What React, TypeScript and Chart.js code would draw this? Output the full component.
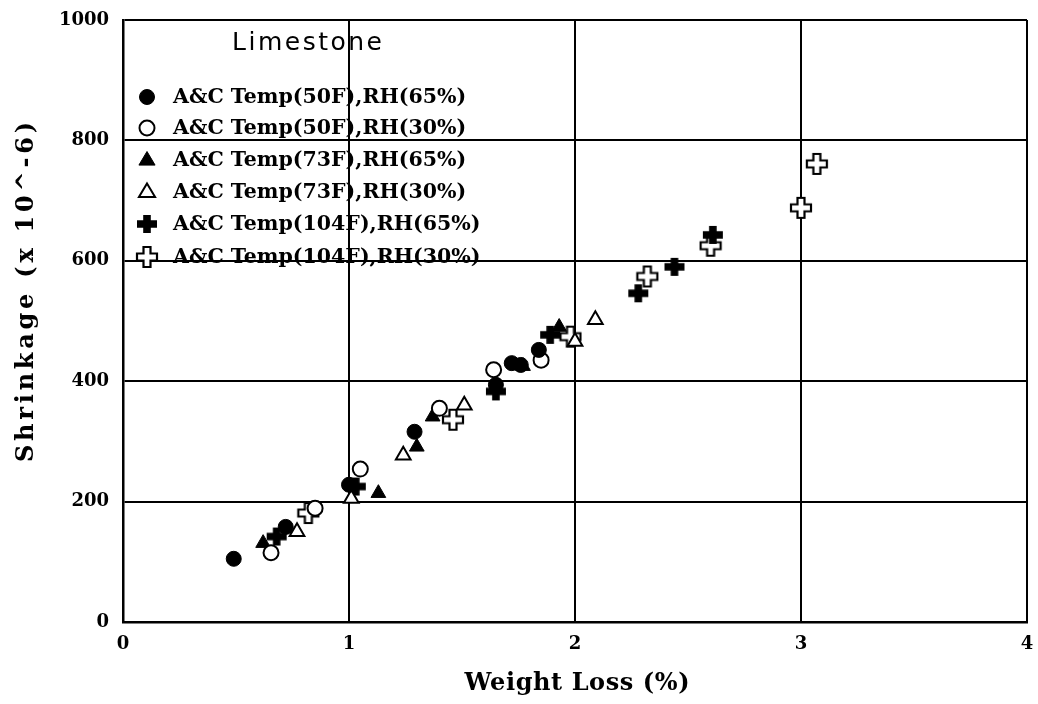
import React, { useEffect, useRef } from 'react';
import { Chart, registerables } from 'chart.js';
Chart.register(...registerables);

// ---- data ----
const seriesLabels = [
  'A&C Temp(50F),RH(65%)',
  'A&C Temp(50F),RH(30%)',
  'A&C Temp(73F),RH(65%)',
  'A&C Temp(73F),RH(30%)',
  'A&C Temp(104F),RH(65%)',
  'A&C Temp(104F),RH(30%)',
];
const chartTitle = 'Limestone';
const xTitle = 'Weight Loss (%)';
const yTitle = 'Shrinkage (x 10^-6)';

const t50rh65X = [0.49, 0.72, 1.0, 1.29, 1.65, 1.72, 1.76, 1.84];
const t50rh65Y = [105, 158, 228, 316, 394, 430, 427, 452];
const t50rh30X = [0.655, 0.85, 1.05, 1.4, 1.64, 1.85];
const t50rh30Y = [115, 189, 254, 355, 419, 435];
const t73rh65X = [0.62, 1.13, 1.3, 1.37, 1.77, 1.93];
const t73rh65Y = [131, 214, 291, 341, 425, 490];
const t73rh30X = [0.77, 1.01, 1.24, 1.51, 2.0, 2.09];
const t73rh30Y = [150, 205, 277, 360, 466, 502];
const t104rh65X = [0.68, 1.03, 1.65, 1.89, 2.28, 2.44, 2.61];
const t104rh65Y = [142, 225, 383, 477, 546, 590, 643];
const t104rh30X = [0.82, 1.46, 1.98, 2.32, 2.6, 3.0, 3.07];
const t104rh30Y = [181, 336, 474, 574, 625, 688, 761];

const xMin = 0, xMax = 4, xStep = 1;
const yMin = 0, yMax = 1000, yStep = 200;

const pts = (xs: number[], ys: number[]) => xs.map((x, i) => ({ x, y: ys[i] }));

function makePlus(filled: boolean): HTMLCanvasElement {
  const c = document.createElement('canvas');
  const s = 24;
  c.width = s; c.height = s;
  const ctx = c.getContext('2d')!;
  const cx = s / 2, cy = s / 2;
  const hw = 10; // half length horizontal
  const hh = filled ? 9 : 10;  // half length vertical
  const t = filled ? 3.8 : 3.5; // half thickness
  ctx.beginPath();
  ctx.moveTo(cx - t, cy - hh);
  ctx.lineTo(cx + t, cy - hh);
  ctx.lineTo(cx + t, cy - t);
  ctx.lineTo(cx + hw, cy - t);
  ctx.lineTo(cx + hw, cy + t);
  ctx.lineTo(cx + t, cy + t);
  ctx.lineTo(cx + t, cy + hh);
  ctx.lineTo(cx - t, cy + hh);
  ctx.lineTo(cx - t, cy + t);
  ctx.lineTo(cx - hw, cy + t);
  ctx.lineTo(cx - hw, cy - t);
  ctx.lineTo(cx - t, cy - t);
  ctx.closePath();
  if (filled) {
    ctx.fillStyle = '#000';
    ctx.fill();
  } else {
    ctx.fillStyle = '#fff';
    ctx.fill();
    ctx.lineWidth = 2.2;
    ctx.strokeStyle = '#000';
    ctx.stroke();
  }
  return c;
}

function drawTextFit(ctx: CanvasRenderingContext2D, text: string, x: number, y: number, target: number) {
  (ctx as any).letterSpacing = '0px';
  const w = ctx.measureText(text).width;
  const n = text.length;
  const ls = n > 1 ? (target - w) / (n - 1) : 0;
  (ctx as any).letterSpacing = ls + 'px';
  const w2 = ctx.measureText(text).width;
  ctx.textAlign = 'left';
  ctx.fillText(text, x - (w2 - ls) / 2, y);
  (ctx as any).letterSpacing = '0px';
}

export default function App() {
  const ref = useRef<HTMLCanvasElement | null>(null);
  useEffect(() => {
    const canvas = ref.current!;
    const plusFilled = makePlus(true);
    const plusOpen = makePlus(false);
    const styles: any[] = [
      { pointStyle: 'circle', radius: 7.5, bg: '#000', bw: 1 },
      { pointStyle: 'circle', radius: 7.5, bg: '#fff', bw: 2 },
      { pointStyle: 'triangle', radius: 8.5, bg: '#000', bw: 1 },
      { pointStyle: 'triangle', radius: 8.5, bg: '#fff', bw: 2 },
      { pointStyle: plusFilled, radius: 10, bg: '#000', bw: 1 },
      { pointStyle: plusOpen, radius: 10, bg: '#fff', bw: 1 },
    ];
    const allData = [
      pts(t50rh65X, t50rh65Y),
      pts(t50rh30X, t50rh30Y),
      pts(t73rh65X, t73rh65Y),
      pts(t73rh30X, t73rh30Y),
      pts(t104rh65X, t104rh65Y),
      pts(t104rh30X, t104rh30Y),
    ];
    const datasets = allData.map((d, i) => ({
      label: seriesLabels[i],
      data: d,
      pointStyle: styles[i].pointStyle,
      pointRadius: styles[i].radius,
      pointBackgroundColor: styles[i].bg,
      pointBorderColor: '#000',
      pointBorderWidth: styles[i].bw,
      showLine: false,
    }));

    const overlay = {
      id: 'overlay',
      afterDatasetsDraw(chart: any) {
        const ctx: CanvasRenderingContext2D = chart.ctx;
        ctx.save();
        ctx.fillStyle = '#000';
        // legend title
        ctx.font = '25px "DejaVu Sans", sans-serif';
        ctx.textBaseline = 'middle';
        drawTextFit(ctx, chartTitle, 307, 43, 150);
        // legend entries
        const rows = [97, 128, 160, 192, 224, 257];
        ctx.font = 'bold 20.5px "DejaVu Serif", serif';
        ctx.textAlign = 'left';
        rows.forEach((yy, i) => {
          const st = styles[i];
          const mx = 147;
          if (st.pointStyle === 'circle') {
            ctx.beginPath();
            ctx.arc(mx, yy, 7.5, 0, Math.PI * 2);
            ctx.fillStyle = st.bg;
            ctx.fill();
            ctx.lineWidth = st.bw;
            ctx.strokeStyle = '#000';
            ctx.stroke();
          } else if (st.pointStyle === 'triangle') {
            const r = 8.5;
            ctx.beginPath();
            ctx.moveTo(mx, yy - r);
            ctx.lineTo(mx + r * 0.95, yy + r * 0.6);
            ctx.lineTo(mx - r * 0.95, yy + r * 0.6);
            ctx.closePath();
            ctx.fillStyle = st.bg;
            ctx.fill();
            ctx.lineWidth = st.bw;
            ctx.strokeStyle = '#000';
            ctx.stroke();
          } else {
            const img = st.pointStyle as HTMLCanvasElement;
            ctx.drawImage(img, mx - img.width / 2, yy - img.height / 2);
          }
          ctx.fillStyle = '#000';
          ctx.fillText(seriesLabels[i], 173, yy + 1);
        });
        // axis titles
        ctx.font = 'bold 24px "DejaVu Serif", serif';
        ctx.textBaseline = 'middle';
        drawTextFit(ctx, xTitle, 577, 684, 225);
        ctx.translate(27, 292);
        ctx.rotate(-Math.PI / 2);
        drawTextFit(ctx, yTitle, 0, 0, 340);
        ctx.restore();
      },
    };

    const tickFont = { family: '"DejaVu Serif", serif', weight: 'bold', size: 18 };
    const chart = new Chart(canvas, {
      type: 'scatter',
      data: { datasets },
      options: {
        animation: false,
        responsive: false,
        maintainAspectRatio: false,
        layout: { padding: { top: 20, right: 3, left: 0, bottom: 0 } },
        plugins: { legend: { display: false }, tooltip: { enabled: false } },
        scales: {
          x: {
            type: 'linear',
            min: xMin,
            max: xMax,
            ticks: {
              stepSize: xStep,
              color: '#000',
              padding: 12,
              font: tickFont,
              callback: (v: any) => String(v),
            },
            grid: { color: '#000', lineWidth: 2, drawTicks: false },
            border: { display: true, color: '#000', width: 2.5 },
            afterFit: (s: any) => {
              s.height = 82;
              s.paddingLeft = 0;
              s.paddingRight = 0;
            },
          },
          y: {
            type: 'linear',
            min: yMin,
            max: yMax,
            ticks: {
              stepSize: yStep,
              color: '#000',
              padding: 14,
              font: tickFont,
              callback: (v: any) => String(v),
            },
            grid: { color: '#000', lineWidth: 2, drawTicks: false },
            border: { display: true, color: '#000', width: 2.5 },
            afterFit: (s: any) => {
              s.width = 123;
              s.paddingTop = 0;
              s.paddingBottom = 0;
            },
          },
        },
      },
      plugins: [overlay],
    } as any);
    return () => chart.destroy();
  }, []);

  return (
    <div style={{ position: 'absolute', left: 0, top: 0, width: 1038, height: 704, background: '#fff' }}>
      <canvas ref={ref} width={1038} height={704} style={{ display: 'block' }} />
    </div>
  );
}
